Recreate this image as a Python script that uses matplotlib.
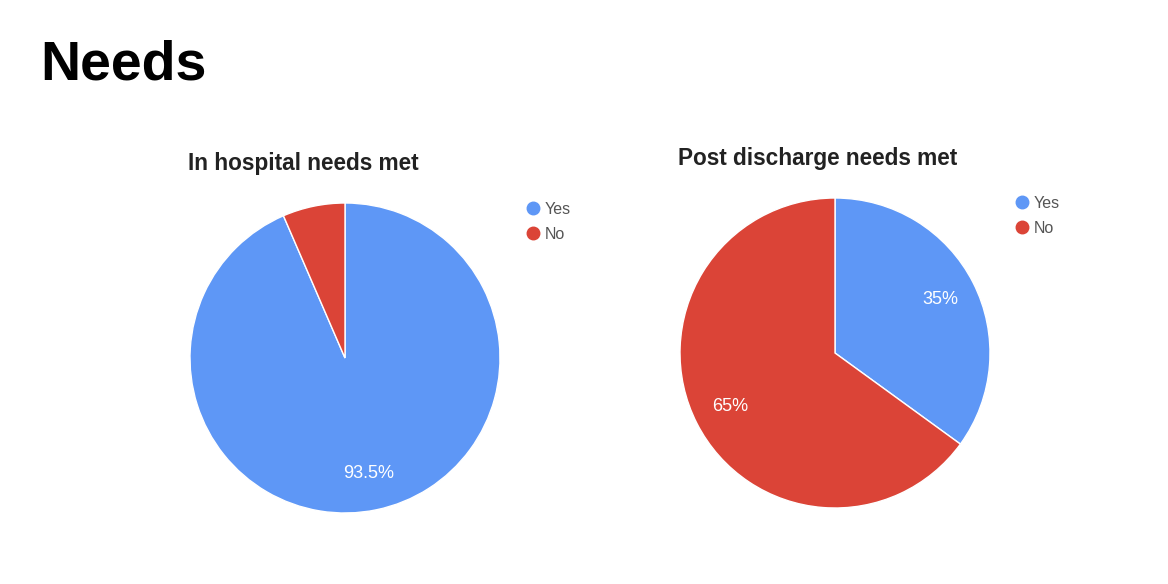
import matplotlib.pyplot as plt
from matplotlib.lines import Line2D

labels = ["Yes", "No"]
in_hospital = [93.5, 6.5]
post_discharge = [35, 65]
colors = ["#5e97f6", "#db4437"]

plt.rcParams['font.family'] = ['Liberation Sans', 'DejaVu Sans']

fig = plt.figure(figsize=(11.68, 5.84), dpi=100)
W, H = 1168, 584


def pct(p):
    if p < 10:
        return ""
    s = f"{p:.1f}".rstrip("0").rstrip(".")
    return s + "%"


def draw_pie(values, x0, top, title, tx, ty, lx, ly):
    ax = fig.add_axes([x0 / W, 1 - (top + 310) / H, 310 / W, 310 / H])
    wedges, texts, autotexts = ax.pie(values, colors=colors, startangle=90, counterclock=False,
                                      autopct=pct, pctdistance=0.76,
                                      wedgeprops=dict(edgecolor="white", linewidth=1))
    for t in autotexts:
        t.set_color("white")
        t.set_fontsize(13)
    ax.set_xlim(-1, 1)
    ax.set_ylim(-1, 1)
    ax.set_aspect("equal")
    fig.text(tx / W, 1 - ty / H, title, fontsize=16.3, fontweight="bold",
             color="#222222", ha="left", va="center")
    handles = [Line2D([], [], marker="o", linestyle="", markersize=9,
                      markerfacecolor=c, markeredgecolor=c) for c in colors]
    ax.legend(handles, labels, loc="upper left", bbox_to_anchor=(lx / W, 1 - ly / H),
              bbox_transform=fig.transFigure, frameon=False, handlelength=0.8,
              handletextpad=0.3, borderpad=0, borderaxespad=0, labelspacing=0.6,
              fontsize=11.5, labelcolor="#555555")
    return ax


draw_pie(in_hospital, 190, 203, "In hospital needs met", 188, 163, 527, 202)
draw_pie(post_discharge, 680, 198, "Post discharge needs met", 678, 158, 1016, 196)

fig.text(40 / W, 1 - 65 / H, "Needs", fontsize=40, fontweight="bold", color="black",
         ha="left", va="center")

fig.savefig("out.png", dpi=100)
